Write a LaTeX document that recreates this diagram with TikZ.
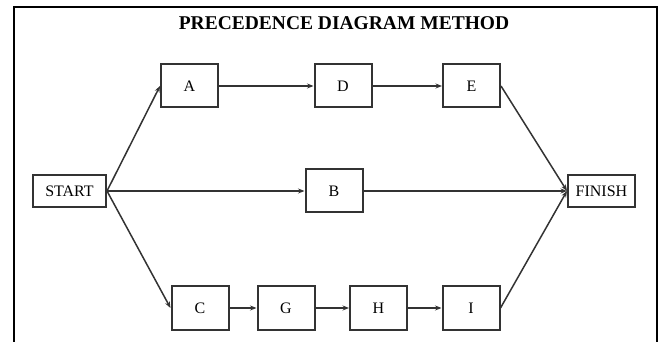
\documentclass[tikz,border=0pt]{standalone}
\usepackage{fontspec}
\setmainfont{Liberation Serif}
\usetikzlibrary{arrows.meta}
\definecolor{boxgray}{HTML}{333333}
\begin{document}
\begin{tikzpicture}[x=1pt, y=1pt,
  box/.style={draw=boxgray, line width=2pt, inner sep=0pt, minimum width=57pt, minimum height=43pt, font=\fontsize{16}{16}\selectfont},
  endbox/.style={box, minimum height=32pt},
  link/.style={draw=boxgray, line width=1.5pt, -{Stealth[length=6.5pt,width=5pt]}}]
\useasboundingbox (0,0) rectangle (662,342);
\draw[line width=1.4pt] (14,0) -- (14,335) -- (657,335) -- (657,0);
\node[font=\bfseries\fontsize{19.5}{19.5}\selectfont] (title) at (344,319){PRECEDENCE DIAGRAM METHOD};
\node[endbox, minimum width=73pt] (start) at (69.5,151){START};
\node[box] (a) at (189.5,256){A};
\node[box] (d) at (343,256){D};
\node[box] (e) at (471.5,256){E};
\node[box] (b) at (334,151){B};
\node[endbox, minimum width=67pt] (finish) at (601.5,151){FINISH};
\node[box, minimum height=44pt] (c) at (200,34){C};
\node[box, minimum height=44pt] (g) at (286,34){G};
\node[box, minimum height=44pt] (h) at (378.5,34){H};
\node[box, minimum height=44pt] (i) at (471,34){I};
\draw[link] (start.east) -- (a.west);
\draw[link] (start.east) -- (b.west);
\draw[link] (start.east) -- (c.west);
\draw[link] (a) -- (d);
\draw[link] (d) -- (e);
\draw[link] (c) -- (g);
\draw[link] (g) -- (h);
\draw[link] (h) -- (i);
\draw[link] (e.east) -- (finish.west);
\draw[link] (b.east) -- (finish.west);
\draw[link] (i.east) -- (finish.west);
\end{tikzpicture}
\end{document}
